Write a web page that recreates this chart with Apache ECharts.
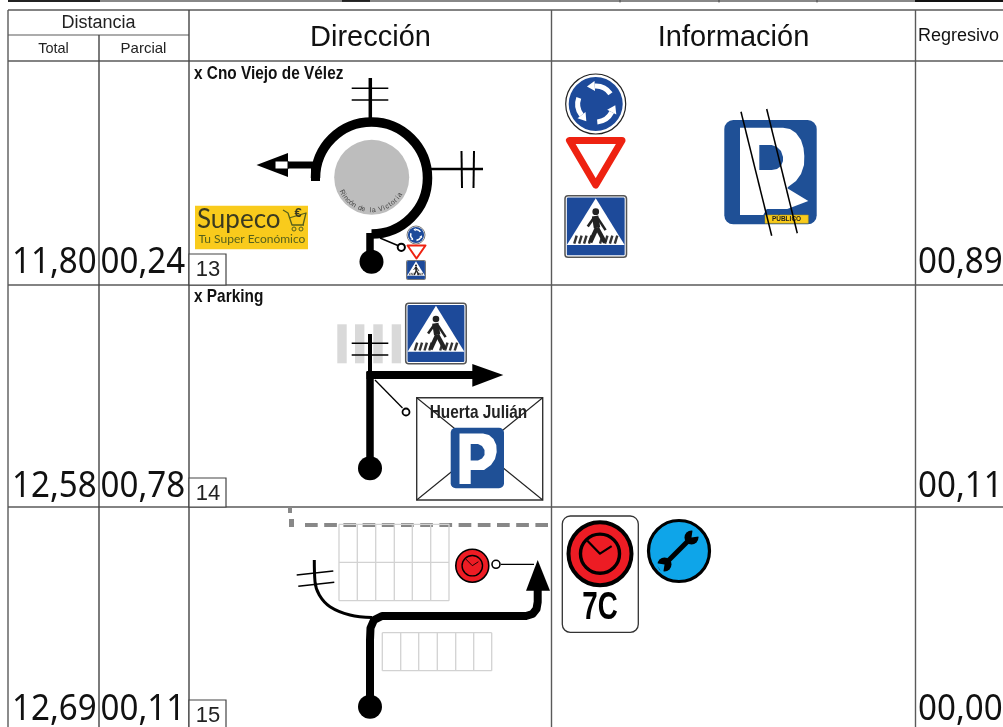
<!DOCTYPE html>
<html>
<head>
<meta charset="utf-8">
<style>
  html, body { margin: 0; padding: 0; background: #fff; }
  #main { width: 1003px; height: 727px; }
</style>
<script src="https://cdn.jsdelivr.net/npm/echarts@6/dist/echarts.min.js"></script>
</head>
<body>
<div id="main"></div>
<script>
// table content
const headers = ['Distancia', 'Total', 'Parcial', 'Dirección', 'Información', 'Regresivo'];
const stepNumbers = ['13', '14', '15'];
const totals = ['11,80', '12,58', '12,69'];
const partials = ['00,24', '00,78', '00,11'];
const remaining = ['00,89', '00,11', '00,00'];
const crossings = ['x Cno Viejo de Vélez', 'x Parking'];

// table rulings in page pixels
const vRules = [8, 99, 189, 551.5, 915.5];
const hRules = [10, 61, 285, 507];
const valueRowsY = [263, 487, 710];
const stepBoxTops = [254, 478, 700];

// road drawing points
const ring13 = [371.5, 178, 56];
const ringStubLeft = [[315.5, 165], [315.5, 181]];
const ringStubFoot = [[370, 233], [370, 262]];
const exitArrowShaft = [[288, 165], [316, 165]];
const crossTop13 = [[370.3, 78], [370.3, 119]];
const crossRight13 = [[431, 169], [483, 169]];
const track14V = [[370, 372], [370, 468]];
const track14H = [[366.5, 375], [473, 375]];
const road14 = [[370, 334], [370, 372]];
const track15 = [[370, 706], [370, 640], [370.5, 628], [374, 620], [382, 616], [526, 616], [532.5, 614], [536.5, 609], [537.7, 602], [537.7, 585]];
const road15 = [[372, 617.5], [350, 615], [330, 606.7], [319.3, 595], [315, 581.7], [314.3, 560]];
const dashes15 = [[305, 525], [548, 525]];
const gridTop15 = { xs: [339, 357.3, 375.7, 394.3, 412.3, 430.7, 449], ys: [524.3, 562.3, 600.7] };
const gridLow15 = { xs: [382.3, 400.7, 418.7, 437.3, 455.7, 473.7, 491.7], ys: [632.7, 670.7] };
const zebra14 = [337.3, 355, 373.3, 391.7];

const palette = { rule: '#5a5a5a', sign: '#1d4a9a', park: '#1f5096', red: '#ee2211', clock: '#ed1c24', cyan: '#0ea5e9', gold: '#f9cb1c' };
const FONT = '"Liberation Sans", Arial, sans-serif';
const NUMFONT = '"Noto Sans", "Open Sans", sans-serif';

const series = [];
function push(s) {
  s.silent = true;
  s.animation = false;
  s.z = 2 + series.length;
  series.push(s);
}
function line(pts, color, w, extra) {
  push(Object.assign({
    type: 'line', data: pts, symbol: 'none', clip: false,
    lineStyle: Object.assign({ color: color, width: w, cap: 'butt', join: 'round' }, extra && extra.style)
  }, extra && extra.smooth ? { smooth: extra.smooth } : {}));
}
function custom(anchor, build) {
  push({ type: 'custom', data: [anchor], clip: false, renderItem: (p, api) => build(api) });
}
function poly(pts, fill, stroke, lw) {
  custom(pts[0], api => ({
    type: 'polygon',
    shape: { points: pts.map(q => api.coord(q)) },
    style: { fill: fill, stroke: stroke || null, lineWidth: lw || 0, lineJoin: 'round' }
  }));
}
function circle(cx, cy, r, fill, stroke, lw) {
  custom([cx, cy], api => {
    const c = api.coord([cx, cy]);
    return { type: 'circle', shape: { cx: c[0], cy: c[1], r: api.size([r, r])[0] }, style: { fill: fill, stroke: stroke || null, lineWidth: lw || 0 } };
  });
}
function rect(x0, y0, x1, y1, radius, fill, stroke, lw) {
  custom([x0, y0], api => {
    const a = api.coord([x0, y0]), b = api.coord([x1, y1]);
    return { type: 'rect', shape: { x: a[0], y: a[1], width: b[0] - a[0], height: b[1] - a[1], r: radius }, style: { fill: fill, stroke: stroke || null, lineWidth: lw || 0 } };
  });
}
function arc(cx, cy, r, from, to, color, w, cap) {
  custom([cx, cy], api => {
    const c = api.coord([cx, cy]);
    return { type: 'arc', shape: { cx: c[0], cy: c[1], r: api.size([r, r])[0], startAngle: from, endAngle: to, clockwise: from < to }, style: { fill: null, stroke: color, lineWidth: w, lineCap: cap || 'butt' } };
  });
}
function text(x, y, str, font, color, align, sx, sy, rot) {
  custom([x, y], api => {
    const c = api.coord([x, y]);
    return {
      type: 'text', x: c[0], y: c[1], scaleX: sx || 1, scaleY: sy || 1, rotation: rot || 0,
      style: { text: str, font: font, fill: color, align: align || 'center', verticalAlign: 'middle' }
    };
  });
}

// signs
function roundaboutSign(cx, cy, R) {
  circle(cx, cy, R, '#fff', '#222', Math.max(0.6, R * 0.04));
  circle(cx, cy, R * 0.9, palette.sign);
  [-35, 85, 200].forEach(a0 => {
    const from = a0 * Math.PI / 180, to = (a0 - 58) * Math.PI / 180, rr = R * 0.6;
    arc(cx, cy, rr, from, to, '#fff', R * 0.17);
    const hx = cx + rr * Math.cos(to), hy = cy + rr * Math.sin(to);
    const tx = Math.sin(to), ty = -Math.cos(to);
    const nx = Math.cos(to), ny = Math.sin(to);
    poly([
      [hx + nx * R * 0.17, hy + ny * R * 0.17],
      [hx - nx * R * 0.17, hy - ny * R * 0.17],
      [hx + tx * R * 0.26, hy + ty * R * 0.26]
    ], '#fff');
  });
}
function crosswalkSign(x, y, s) {
  const U = (u, v) => [x + u * s, y + v * s];
  rect(x, y, x + s, y + s, s * 0.05, '#fff', '#555', Math.max(0.8, s * 0.025));
  rect(x + s * 0.03, y + s * 0.03, x + s * 0.97, y + s * 0.97, s * 0.02, palette.sign);
  poly([U(0.5, 0.04), U(0.97, 0.8), U(0.03, 0.8)], '#fff');
  [0.17, 0.25, 0.33, 0.41, 0.59, 0.67, 0.75, 0.83].forEach(u => {
    line([U(u + 0.02, 0.65), U(u - 0.02, 0.78)], '#333', s * 0.04);
  });
  circle(x + 0.5 * s, y + 0.26 * s, 0.055 * s, '#222');
  const w = s * 0.07;
  line([U(0.49, 0.33), U(0.52, 0.52)], '#222', w * 1.5);
  line([U(0.52, 0.52), U(0.41, 0.76)], '#222', w);
  line([U(0.52, 0.52), U(0.65, 0.76)], '#222', w);
  line([U(0.47, 0.36), U(0.37, 0.5)], '#222', w * 0.6);
  line([U(0.53, 0.36), U(0.66, 0.56)], '#222', w * 0.6);
}
function yieldSign(a, b, c, w) {
  poly([a, b, c], '#fff', palette.red, w);
}
function clockSign(cx, cy, R, lw) {
  circle(cx, cy, R, palette.clock, '#000', lw);
  circle(cx, cy, R * 0.62, palette.clock, '#000', lw * 0.85);
  line([[cx - R * 0.4, cy - R * 0.41], [cx, cy], [cx + R * 0.37, cy - R * 0.24]], '#000', lw * 0.55);
}
function leaderDot(cx, cy, r, lw) {
  circle(cx, cy, r, '#fff', '#000', lw);
}

// table
function buildTable() {
  line([[100, 0.8], [915, 0.8]], '#888', 2.4);
  line([[8, 0.6], [100, 0.6]], '#222', 2.6);
  line([[342, 0.6], [370, 0.6]], '#222', 2.6);
  line([[915, 0.6], [1003, 0.6]], '#111', 2.6);
  [620, 719, 817].forEach(x => line([[x, 0], [x, 2.5]], '#444', 1));
  hRules.forEach(y => line([[8, y], [1003, y]], palette.rule, 1.5));
  line([[8, 35], [189, 35]], palette.rule, 1.2);
  vRules.forEach((x, i) => {
    line([[x, i === 1 ? 35 : 10], [x, 727]], i === 1 || i === 2 ? '#444' : palette.rule, 1.4);
  });
  text(98.5, 23, headers[0], '18px ' + FONT, '#222');
  text(53.5, 49, headers[1], '14.5px ' + FONT, '#222');
  text(143.5, 49, headers[2], '15px ' + FONT, '#222');
  text(370.5, 38, headers[3], '29px ' + FONT, '#111');
  text(733.5, 38, headers[4], '29px ' + FONT, '#111');
  text(918, 36, headers[5], '18px ' + FONT, '#111', 'left');
  valueRowsY.forEach((y, i) => {
    text(12, y, totals[i], '36px ' + NUMFONT, '#111', 'left', 0.92);
    text(100.5, y, partials[i], '36px ' + NUMFONT, '#111', 'left', 0.92);
    text(918, y, remaining[i], '36px ' + NUMFONT, '#111', 'left', 0.92);
    const t = stepBoxTops[i];
    rect(189, t, 226, i === 2 ? 730 : hRules[i + 2], 0, '#fff', '#444', 1.2);
    text(208, t + 16, stepNumbers[i], '22px ' + FONT, '#222');
  });
  text(194, 74, crossings[0], 'bold 19px ' + FONT, '#111', 'left', 0.81);
  text(194, 297, crossings[1], 'bold 19px ' + FONT, '#111', 'left', 0.81);
}

function buildRow13() {
  circle(371.7, 177.3, 37.5, '#bdbdbd');
  const label = 'Rincón de la Victoria';
  const a0 = 153, a1 = 32;
  label.split('').forEach((ch, i) => {
    const deg = a0 + (a1 - a0) * i / (label.length - 1);
    const th = deg * Math.PI / 180;
    text(371.7 + 33 * Math.cos(th), 177.3 + 33 * Math.sin(th), ch, '7px ' + FONT, '#444', 'center', 1, 1, -(deg - 90) * Math.PI / 180);
  });
  arc(ring13[0], ring13[1], ring13[2], Math.PI, Math.PI * 2.5, '#000', 9.5);
  line(ringStubLeft, '#000', 9);
  line(ringStubFoot, '#000', 7.5);
  circle(371.5, 261.7, 12, '#000');
  // left exit
  line(exitArrowShaft, '#000', 7);
  poly([[256.5, 165], [288, 153], [288, 177]], '#000');
  rect(275, 161, 288, 169, 0, '#fff', '#000', 1);
  // side roads
  line(crossTop13, '#000', 3.5);
  line([[351.7, 88.3], [388.3, 88.3]], '#000', 1.5);
  line([[351.7, 100], [388.3, 100]], '#000', 1.5);
  line(crossRight13, '#000', 2.5);
  line([[461.5, 151], [462, 188]], '#000', 2);
  line([[474, 151], [473.5, 188]], '#000', 2);
  // small signs
  line([[380, 238], [399, 246]], '#000', 1.4);
  leaderDot(401.3, 247.3, 3.6, 2);
  roundaboutSign(416, 235, 9);
  yieldSign([407.5, 245.5], [425.5, 245.5], [416.5, 258.5], 2);
  crosswalkSign(406.5, 260.5, 19);
  // supeco logo
  rect(195, 205.7, 308, 249.3, 0, palette.gold);
  text(197, 220, 'Supeco', '26px Lato, "Noto Sans", sans-serif', '#3a3a20', 'left');
  text(198.5, 239, 'Tu Super Económico', '12px Lato, "Noto Sans", sans-serif', '#55601c', 'left');
  line([[283, 210], [288, 213], [292, 225], [304, 225]], '#55601c', 1.3);
  line([[289, 218], [306, 213], [303, 225]], '#55601c', 1.3);
  text(298, 213, '€', 'bold 13px ' + FONT, '#3a3a20');
  circle(294, 229, 2, null, '#55601c', 1);
  circle(301, 229, 2, null, '#55601c', 1);
}

function buildInfo13() {
  roundaboutSign(595.7, 104, 30);
  yieldSign([569.5, 140.5], [622, 140.5], [595.7, 185], 7);
  crosswalkSign(565, 195.7, 61.5);
  // reserved public parking
  rect(724.3, 120, 816.7, 224.3, 9, palette.park);
  poly([[740, 127.7], [783, 127.7], [790, 129], [796, 133], [801, 140], [803.5, 148], [804.3, 156], [804, 165], [801, 174], [796, 181], [788, 187], [787.3, 188.3], [808.3, 201], [787.3, 209], [766.7, 209], [763.3, 215], [740, 215]], '#fff');
  poly([[759.3, 145], [771.7, 145], [777, 147], [781, 151], [783, 157], [783, 161], [781, 166], [777, 169], [771.7, 170], [759.3, 170]], palette.park);
  rect(765, 215, 808.3, 223.3, 0, palette.gold, '#b8960c', 0.5);
  text(786.5, 219.4, 'PÚBLICO', 'bold 6.5px ' + FONT, '#222');
  line([[741, 111.7], [771.7, 235.7]], '#000', 1.5);
  line([[766.7, 109], [797.3, 233.3]], '#000', 1.5);
}

function buildRow14() {
  zebra14.forEach(x => rect(x, 324.3, x + 9.4, 363.3, 0, '#d9d9d9'));
  crosswalkSign(405.7, 303.3, 60.5);
  line(road14, '#000', 4);
  line([[351.7, 343.3], [388.3, 343.3]], '#000', 1.5);
  line([[351.7, 355], [388.3, 355]], '#000', 1.5);
  line(track14V, '#000', 7.5);
  line(track14H, '#000', 8);
  poly([[472.3, 364], [503.3, 375], [472.3, 386.7]], '#000');
  circle(370, 468.3, 12, '#000');
  line([[375, 380], [402.5, 408]], '#000', 1.3);
  leaderDot(406, 412, 3.5, 1.8);
  // parking board
  rect(416.7, 397.7, 542.7, 500, 0, '#fff', '#333', 1.4);
  line([[416.7, 397.7], [542.7, 500]], '#222', 1.1);
  line([[542.7, 397.7], [416.7, 500]], '#222', 1.1);
  rect(450.7, 427.7, 504, 488.3, 5, palette.park);
  poly([[459.5, 433.5], [483, 433.5], [489, 435], [493.5, 439], [496.3, 445], [496.7, 452], [495, 459], [491, 465], [484, 470], [470.7, 470], [470.7, 484], [459.5, 484]], '#fff');
  poly([[470.7, 444], [478, 444], [482, 446], [484.5, 450], [484.5, 455], [482, 458.5], [478, 460.5], [470.7, 460.5]], palette.park);
  text(478.5, 412.3, 'Huerta Julián', 'bold 19px ' + FONT, '#222', 'center', 0.81);
}

function buildRow15() {
  line(dashes15, '#888', 4.2, { style: { type: [12.7, 6.5] } });
  line([[290, 507], [290, 513]], '#888', 4);
  line([[291.5, 519], [291.5, 527]], '#888', 5);
  [gridTop15, gridLow15].forEach(g => {
    g.xs.forEach(x => line([[x, g.ys[0]], [x, g.ys[g.ys.length - 1]]], '#d2d2d2', 1.3));
    g.ys.forEach(y => line([[g.xs[0], y], [g.xs[g.xs.length - 1], y]], '#d2d2d2', 1.3));
  });
  line(road15, '#000', 3, { smooth: 0.4 });
  line([[296.7, 575], [333.3, 571]], '#000', 1.5);
  line([[298.3, 586.3], [334.3, 582.3]], '#000', 1.5);
  line(track15, '#000', 8);
  poly([[526, 590.7], [537.7, 560], [550, 590.7]], '#000');
  circle(370, 706.7, 12, '#000');
  clockSign(472.3, 565.7, 16.5, 1.6);
  leaderDot(496, 564.3, 4, 1.6);
  line([[501, 564.3], [534, 564.3]], '#000', 1.2);
}

function buildInfo15() {
  rect(562.3, 516, 638.3, 632.3, 8, '#fff', '#333', 1.3);
  clockSign(600, 553.7, 31.5, 4);
  text(600, 609, '7C', 'bold 38px ' + FONT, '#000', 'center', 0.73);
  circle(679, 551, 30.5, palette.cyan, '#000', 3.2);
  line([[665, 564], [691, 538]], '#000', 5);
  circle(691.5, 537.5, 7, '#000');
  poly([[691.5, 537.5], [693, 527], [702, 536]], palette.cyan);
  circle(664.5, 564.5, 7, '#000');
  poly([[664.5, 564.5], [655, 563], [663, 574]], palette.cyan);
}

buildTable();
buildRow13();
buildInfo13();
buildRow14();
buildRow15();
buildInfo15();

const chart = echarts.init(document.getElementById('main'), null, { renderer: 'canvas' });
chart.setOption({
  animation: false,
  backgroundColor: '#fff',
  tooltip: { show: false },
  grid: { left: 0, top: 0, right: 0, bottom: 0 },
  xAxis: { type: 'value', min: 0, max: 1003, show: false },
  yAxis: { type: 'value', min: 0, max: 727, inverse: true, show: false },
  series: series
});
</script>
</body>
</html>
